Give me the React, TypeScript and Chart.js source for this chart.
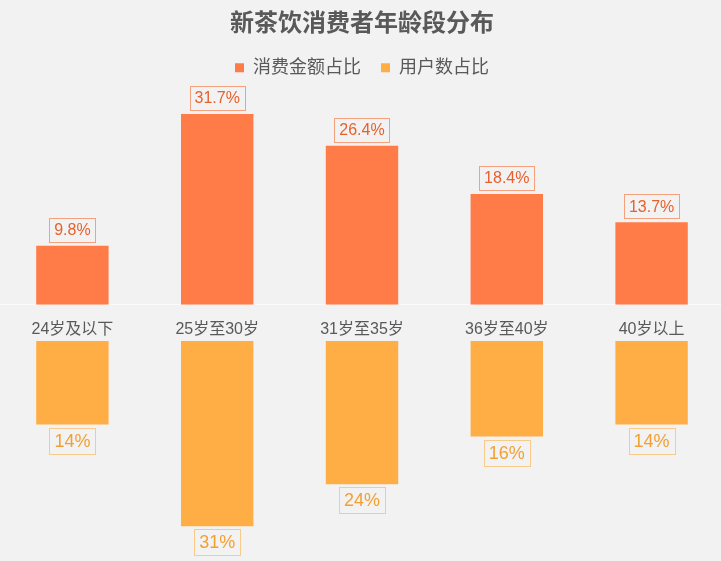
import { useEffect, useRef } from "react";
import { Chart, registerables } from "chart.js";

Chart.register(...registerables);

const FONT = "'Liberation Sans', 'Noto Sans CJK SC', sans-serif";

const categories = ["24岁及以下", "25岁至30岁", "31岁至35岁", "36岁至40岁", "40岁以上"];
const spendShare = [9.8, 31.7, 26.4, 18.4, 13.7];
const userShare = [14, 31, 24, 16, 14];

const SPEND_COLOR = "#FF7B47";
const USER_COLOR = "#FFAE45";

// boxed value labels above (top chart) or below (bottom chart) each bar
function boxLabels(id: string, opts: { below: boolean; size: number; color: string; border: string; fmt: (v: number) => string }) {
  return {
    id,
    afterDatasetsDraw(chart: Chart) {
      const ctx = chart.ctx;
      const meta = chart.getDatasetMeta(0);
      const data = chart.data.datasets[0].data as number[];
      ctx.save();
      ctx.font = `${opts.size}px ${FONT}`;
      ctx.textAlign = "center";
      ctx.textBaseline = "middle";
      meta.data.forEach((bar: any, i: number) => {
        const text = opts.fmt(data[i]);
        const w = ctx.measureText(text).width + 10;
        const h = opts.size + 8;
        const top = opts.below ? bar.y + 3 : bar.y - 4 - h;
        ctx.strokeStyle = opts.border;
        ctx.lineWidth = 1;
        ctx.strokeRect(Math.round(bar.x - w / 2) + 0.5, Math.round(top) + 0.5, Math.round(w), h);
        ctx.fillStyle = opts.color;
        ctx.fillText(text, bar.x, top + h / 2 + 1);
      });
      ctx.restore();
    },
  };
}

export default function App() {
  const topRef = useRef<HTMLCanvasElement | null>(null);
  const bottomRef = useRef<HTMLCanvasElement | null>(null);

  useEffect(() => {
    if (!topRef.current || !bottomRef.current) {
      return;
    }

    const topChart = new Chart(topRef.current, {
      type: "bar",
      data: {
        labels: categories,
        datasets: [
          { label: "消费金额占比", data: spendShare, backgroundColor: SPEND_COLOR },
          { label: "用户数占比", data: [], backgroundColor: USER_COLOR },
        ],
      },
      options: {
        responsive: true,
        maintainAspectRatio: false,
        animation: false,
        layout: { padding: 0 },
        datasets: { bar: { categoryPercentage: 1, barPercentage: 0.5, grouped: false } },
        plugins: {
          title: {
            display: true,
            text: "新茶饮消费者年龄段分布",
            color: "#595959",
            font: { family: FONT, size: 24, weight: "bold" },
            padding: { top: 10, bottom: 0 },
          },
          legend: {
            position: "top",
            labels: {
              color: "#595959",
              font: { family: FONT, size: 18 },
              boxWidth: 9,
              boxHeight: 9,
              padding: 20,
            },
          },
          tooltip: { enabled: false },
        },
        scales: {
          x: {
            grid: { display: false, drawTicks: false },
            border: { display: true, color: "rgba(255,255,255,0.7)" },
            ticks: { color: "#595959", font: { family: FONT, size: 16 }, padding: 15 },
          },
          y: { display: false, min: 0, max: 36.2 },
        },
      },
      plugins: [
        boxLabels("spendLabels", {
          below: false,
          size: 16,
          color: "#E8602C",
          border: "#F4A27D",
          fmt: (v) => v.toFixed(1) + "%",
        }),
      ],
    });

    const bottomChart = new Chart(bottomRef.current, {
      type: "bar",
      data: {
        labels: categories,
        datasets: [{ label: "用户数占比", data: userShare, backgroundColor: USER_COLOR }],
      },
      options: {
        responsive: true,
        maintainAspectRatio: false,
        animation: false,
        layout: { padding: { bottom: 5 } },
        datasets: { bar: { categoryPercentage: 1, barPercentage: 0.5 } },
        plugins: { legend: { display: false }, tooltip: { enabled: false } },
        scales: {
          x: { display: false },
          y: { display: false, min: 0, max: 36, reverse: true },
        },
      },
      plugins: [
        boxLabels("userLabels", {
          below: true,
          size: 18,
          color: "#F2A033",
          border: "#F8CB8A",
          fmt: (v) => v + "%",
        }),
      ],
    });

    return () => {
      topChart.destroy();
      bottomChart.destroy();
    };
  }, []);

  return (
    <div style={{ position: "fixed", left: 0, top: 0, width: 721, height: 561, background: "#F2F2F2", overflow: "hidden" }}>
      <div style={{ position: "absolute", left: 0, top: 0, width: 724, height: 354 }}>
        <canvas ref={topRef} />
      </div>
      <div style={{ position: "absolute", left: 0, top: 341, width: 724, height: 220 }}>
        <canvas ref={bottomRef} />
      </div>
    </div>
  );
}
